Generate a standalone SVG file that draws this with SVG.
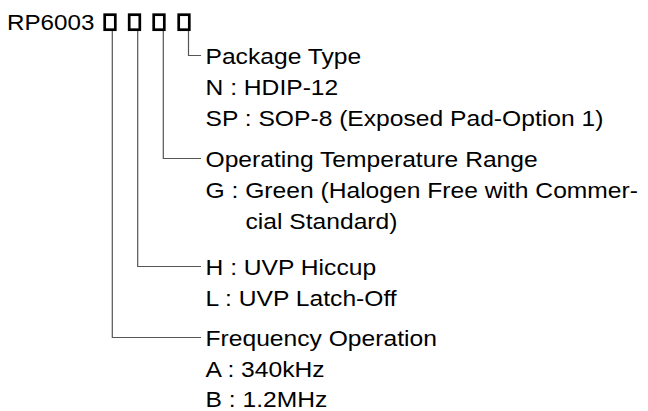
<svg xmlns="http://www.w3.org/2000/svg" width="648" height="411" viewBox="0 0 648 411">
<style>
text{font-family:"Liberation Sans",Arial,sans-serif;font-size:22px;fill:#000}
.box{fill:none;stroke:#000;stroke-width:2.7}
.con{fill:none;stroke:#555;stroke-width:1.2}
</style>
<rect width="648" height="411" fill="#fff"/>
<g id="part">
<text transform="translate(7,29.5) scale(1.1,1.04)">RP6003</text>
<rect class="box" x="104.7" y="14.7" width="10.6" height="15"/>
<rect class="box" x="129.2" y="14.7" width="10.6" height="15"/>
<rect class="box" x="153.7" y="14.7" width="10.6" height="15"/>
<rect class="box" x="178.7" y="14.7" width="10.6" height="15"/>
</g>
<g id="connectors">
<path class="con" d="M188.5 31V55.5H201"/>
<path class="con" d="M163.3 31V158.5H201"/>
<path class="con" d="M137.7 31V266.5H201"/>
<path class="con" d="M112.3 31V337.5H201"/>
</g>
<g id="package">
<text transform="translate(205.5,64) scale(1.12,1)">Package Type</text>
<text transform="translate(205.5,95) scale(1.12,1)">N : HDIP-12</text>
<text transform="translate(205.5,126) scale(1.12,1)">SP : SOP-8 (Exposed Pad-Option 1)</text>
</g>
<g id="temperature">
<text transform="translate(205.5,167) scale(1.12,1)">Operating Temperature Range</text>
<text transform="translate(205.5,198) scale(1.12,1)">G : Green (Halogen Free with Commer-</text>
<text transform="translate(245.5,229) scale(1.12,1)">cial Standard)</text>
</g>
<g id="uvp">
<text transform="translate(205.5,275) scale(1.12,1)">H : UVP Hiccup</text>
<text transform="translate(205.5,306) scale(1.12,1)">L : UVP Latch-Off</text>
</g>
<g id="frequency">
<text transform="translate(205.5,345.5) scale(1.12,1)">Frequency Operation</text>
<text transform="translate(205.5,376.5) scale(1.12,1)">A : 340kHz</text>
<text transform="translate(205.5,407) scale(1.12,1)">B : 1.2MHz</text>
</g>
</svg>
